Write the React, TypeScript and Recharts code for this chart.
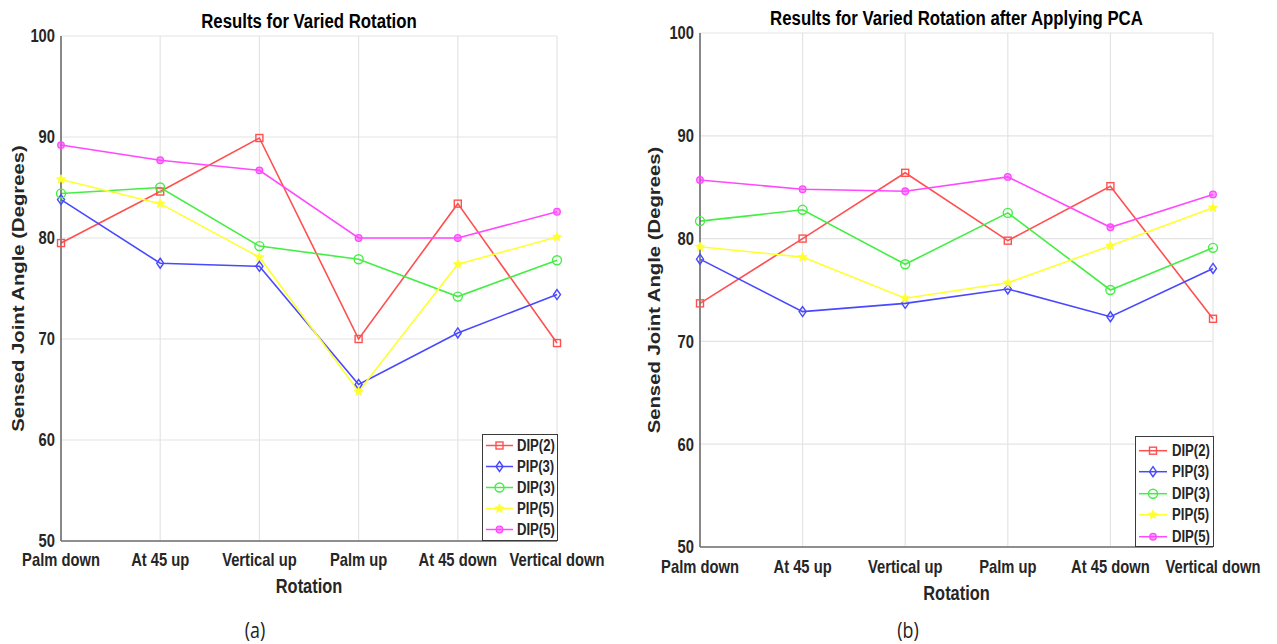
import React from 'react';
import { LineChart, Line, XAxis, YAxis, CartesianGrid, Legend, Label } from 'recharts';

const categories = ['Palm down', 'At 45 up', 'Vertical up', 'Palm up', 'At 45 down', 'Vertical down'];
const yTicks = [50, 60, 70, 80, 90, 100];

const seriesKeys = ['dip2', 'pip3', 'dip3', 'pip5', 'dip5'];
const seriesNames = ['DIP(2)', 'PIP(3)', 'DIP(3)', 'PIP(5)', 'DIP(5)'];
const seriesColors = ['#ff5050', '#4848ff', '#44ee44', '#ffff30', '#ff48ff'];
const seriesShapes = ['square', 'diamond', 'circle', 'star', 'dot'];

// (a) Results for Varied Rotation
const dip2A = [79.5, 84.6, 89.9, 70.0, 83.4, 69.6];
const pip3A = [83.8, 77.5, 77.2, 65.5, 70.6, 74.4];
const dip3A = [84.4, 85.0, 79.2, 77.9, 74.2, 77.8];
const pip5A = [85.8, 83.4, 78.1, 64.8, 77.4, 80.1];
const dip5A = [89.2, 87.7, 86.7, 80.0, 80.0, 82.6];

// (b) after applying PCA
const dip2B = [73.7, 80.0, 86.4, 79.8, 85.1, 72.2];
const pip3B = [78.0, 72.9, 73.7, 75.1, 72.4, 77.1];
const dip3B = [81.7, 82.8, 77.5, 82.5, 75.0, 79.1];
const pip5B = [79.2, 78.2, 74.2, 75.7, 79.3, 83.0];
const dip5B = [85.7, 84.8, 84.6, 86.0, 81.1, 84.3];

const titleA = 'Results for Varied Rotation';
const titleB = 'Results for Varied Rotation after Applying PCA';
const xLabelText = 'Rotation';
const yLabelText = 'Sensed Joint Angle (Degrees)';

const buildRows = (series: number[][]) =>
  categories.map((name, i) => {
    const row: any = { name };
    seriesKeys.forEach((k, j) => {
      row[k] = series[j][i];
    });
    return row;
  });

const dataA = buildRows([dip2A, pip3A, dip3A, pip5A, dip5A]);
const dataB = buildRows([dip2B, pip3B, dip3B, pip5B, dip5B]);

const FONT = '"Liberation Sans", Arial, sans-serif';
const SX = 0.82;
const AXIS_COLOR = '#6e6e6e';
const TEXT_COLOR = '#262626';

function Marker({ shape, color, cx, cy }: { shape: string; color: string; cx: number; cy: number }) {
  if (cx == null || cy == null || isNaN(cx) || isNaN(cy)) return null;
  if (shape === 'square') {
    return <rect x={cx - 3.5} y={cy - 3.5} width={7} height={7} fill="none" stroke={color} strokeWidth={1.4} />;
  }
  if (shape === 'diamond') {
    return (
      <polygon
        points={`${cx},${cy - 5} ${cx + 3.5},${cy} ${cx},${cy + 5} ${cx - 3.5},${cy}`}
        fill="none"
        stroke={color}
        strokeWidth={1.4}
      />
    );
  }
  if (shape === 'circle') {
    return <circle cx={cx} cy={cy} r={4.5} fill="none" stroke={color} strokeWidth={1.4} />;
  }
  if (shape === 'star') {
    const pts: string[] = [];
    for (let i = 0; i < 10; i++) {
      const r = i % 2 === 0 ? 4.8 : 2.2;
      const a = -Math.PI / 2 + (i * Math.PI) / 5;
      pts.push(`${cx + r * Math.cos(a)},${cy + r * Math.sin(a)}`);
    }
    return <polygon points={pts.join(' ')} fill={color} stroke={color} strokeWidth={0.8} />;
  }
  return <circle cx={cx} cy={cy} r={3.3} fill={color} fillOpacity={0.55} stroke={color} strokeWidth={1.3} />;
}

const makeDot = (shape: string, color: string) => (props: any) => (
  <Marker key={`dot-${shape}-${props.index}`} shape={shape} color={color} cx={props.cx} cy={props.cy} />
);

// horizontally condensed text (the reference figure is squeezed horizontally)
function NarrowText({
  x,
  y,
  anchor,
  dy,
  size,
  fill,
  children,
}: {
  x: number;
  y: number;
  anchor: string;
  dy: string;
  size: number;
  fill: string;
  children: any;
}) {
  return (
    <text
      transform={`translate(${x},${y}) scale(${SX},1)`}
      x={0}
      y={0}
      dy={dy}
      textAnchor={anchor}
      fontFamily={FONT}
      fontWeight={700}
      fontSize={size}
      fill={fill}
    >
      {children}
    </text>
  );
}

const xTick = (props: any) => (
  <NarrowText x={props.x} y={props.y} anchor="middle" dy="0.71em" size={18} fill={TEXT_COLOR}>
    {props.payload && props.payload.value}
  </NarrowText>
);
const yTick = (props: any) => (
  <NarrowText x={props.x} y={props.y} anchor="end" dy="0.355em" size={18} fill={TEXT_COLOR}>
    {props.payload && props.payload.value}
  </NarrowText>
);

const makeLegend = (padTop: number, rowH: number, lineW: number, textX: number) => () => (
  <div
    style={{
      width: '100%',
      height: '100%',
      boxSizing: 'border-box',
      border: '1px solid #3a3a3a',
      background: '#ffffff',
      paddingTop: padTop,
    }}
  >
    {seriesNames.map((n, i) => (
      <div key={n} style={{ position: 'relative', height: rowH }}>
        <svg width={textX} height={rowH} style={{ position: 'absolute', left: 0, top: 0 }}>
          <line x1={3} x2={3 + lineW} y1={rowH / 2} y2={rowH / 2} stroke={seriesColors[i]} strokeWidth={1.5} />
          <Marker shape={seriesShapes[i]} color={seriesColors[i]} cx={3 + lineW / 2} cy={rowH / 2} />
        </svg>
        <span
          style={{
            position: 'absolute',
            left: textX,
            top: 0,
            lineHeight: `${rowH}px`,
            fontFamily: FONT,
            fontWeight: 700,
            fontSize: 16,
            color: TEXT_COLOR,
            whiteSpace: 'nowrap',
            transform: `scaleX(${SX})`,
            transformOrigin: 'left center',
          }}
        >
          {n}
        </span>
      </div>
    ))}
  </div>
);

type PanelProps = {
  data: any[];
  title: string;
  width: number;
  height: number;
  margin: { top: number; right: number; bottom: number; left: number };
  yAxisWidth: number;
  yLabelX: number;
  xLabelDy: number;
  titleY: number;
  tickMargin: number;
  legendBox: { left: number; top: number; width: number; height: number };
  legendPad: number;
  legendRow: number;
  legendLine: number;
  legendTextX: number;
};

function Panel(p: PanelProps) {
  const titleContent = (props: any) => {
    const vb = props.viewBox || {};
    return (
      <NarrowText x={vb.x + vb.width / 2} y={p.titleY} anchor="middle" dy="0.355em" size={20.5} fill="#000">
        {p.title}
      </NarrowText>
    );
  };
  const xLabelContent = (props: any) => {
    const vb = props.viewBox || {};
    return (
      <NarrowText x={vb.x + vb.width / 2} y={vb.y + p.xLabelDy} anchor="middle" dy="0.355em" size={20} fill={TEXT_COLOR}>
        {xLabelText}
      </NarrowText>
    );
  };
  const yLabelContent = (props: any) => {
    const vb = props.viewBox || {};
    const cx = vb.x + p.yLabelX;
    const cy = vb.y + vb.height / 2;
    return (
      <text
        transform={`translate(${cx},${cy}) scale(${SX},1) rotate(-90)`}
        x={0}
        y={0}
        dy="0.355em"
        textAnchor="middle"
        fontFamily={FONT}
        fontWeight={700}
        fontSize={20.3}
        fill={TEXT_COLOR}
      >
        {yLabelText}
      </text>
    );
  };
  return (
    <LineChart width={p.width} height={p.height} data={p.data} margin={p.margin}>
      <CartesianGrid stroke="#e4e4e4" strokeWidth={1.2} />
      <XAxis
        dataKey="name"
        interval={0}
        height={60}
        tickLine={false}
        tickSize={6}
        tickMargin={p.tickMargin}
        tick={xTick}
        axisLine={{ stroke: AXIS_COLOR, strokeWidth: 1.6 }}
      >
        <Label content={xLabelContent} />
        <Label content={titleContent} />
      </XAxis>
      <XAxis
        xAxisId="top"
        orientation="top"
        dataKey="name"
        interval={0}
        height={0}
        mirror
        tick={false}
        tickSize={5}
        tickLine={{ stroke: AXIS_COLOR }}
        axisLine={{ stroke: AXIS_COLOR, strokeWidth: 1.6 }}
      />
      <YAxis
        domain={[50, 100]}
        ticks={yTicks}
        interval={0}
        width={p.yAxisWidth}
        tickLine={false}
        tickSize={4}
        tickMargin={2}
        tick={yTick}
        axisLine={{ stroke: AXIS_COLOR, strokeWidth: 1.6 }}
      >
        <Label content={yLabelContent} />
      </YAxis>
      <YAxis
        yAxisId="right"
        orientation="right"
        domain={[50, 100]}
        ticks={yTicks}
        interval={0}
        width={0}
        mirror
        tick={false}
        tickSize={5}
        tickLine={{ stroke: AXIS_COLOR }}
        axisLine={{ stroke: AXIS_COLOR, strokeWidth: 1.6 }}
      />
      {seriesKeys.map((k, i) => (
        <Line
          key={k}
          type="linear"
          dataKey={k}
          name={seriesNames[i]}
          stroke={seriesColors[i]}
          strokeWidth={1.6}
          dot={makeDot(seriesShapes[i], seriesColors[i])}
          activeDot={false}
          isAnimationActive={false}
        />
      ))}
      <Legend
        layout="vertical"
        align="center"
        verticalAlign="middle"
        content={makeLegend(p.legendPad, p.legendRow, p.legendLine, p.legendTextX)}
        wrapperStyle={{
          left: p.legendBox.left,
          top: p.legendBox.top,
          width: p.legendBox.width,
          height: p.legendBox.height,
          right: 'auto',
          bottom: 'auto',
        }}
      />
    </LineChart>
  );
}

const captionStyle: React.CSSProperties = {
  position: 'absolute',
  width: 100,
  top: 617,
  height: 27,
  textAlign: 'center',
  fontFamily: '"Open Sans", "Noto Sans", sans-serif',
  fontSize: 21,
  lineHeight: '27px',
  color: '#222',
  transform: 'scaleX(0.85)',
};

export default function App() {
  return (
    <div style={{ position: 'absolute', left: 0, top: 0, width: 1277, height: 644, background: '#fff', overflow: 'hidden' }}>
      <div style={{ position: 'absolute', left: 0, top: 0 }}>
        <Panel
          data={dataA}
          title={titleA}
          width={640}
          height={644}
          margin={{ top: 36, right: 83, bottom: 43, left: 0 }}
          yAxisWidth={61}
          yLabelX={18}
          xLabelDy={45}
          titleY={21}
          tickMargin={6}
          legendBox={{ left: 482, top: 434, width: 76, height: 107 }}
          legendPad={0}
          legendRow={21}
          legendLine={27}
          legendTextX={34}
        />
      </div>
      <div style={{ position: 'absolute', left: 640, top: 0 }}>
        <Panel
          data={dataB}
          title={titleB}
          width={637}
          height={644}
          margin={{ top: 33, right: 64, bottom: 37, left: 0 }}
          yAxisWidth={60}
          yLabelX={14}
          xLabelDy={46}
          titleY={18}
          tickMargin={7}
          legendBox={{ left: 495, top: 436, width: 79, height: 111 }}
          legendPad={3}
          legendRow={21.4}
          legendLine={28}
          legendTextX={36}
        />
      </div>
      <div style={{ ...captionStyle, left: 205 }}>(a)</div>
      <div style={{ ...captionStyle, left: 858 }}>(b)</div>
    </div>
  );
}
